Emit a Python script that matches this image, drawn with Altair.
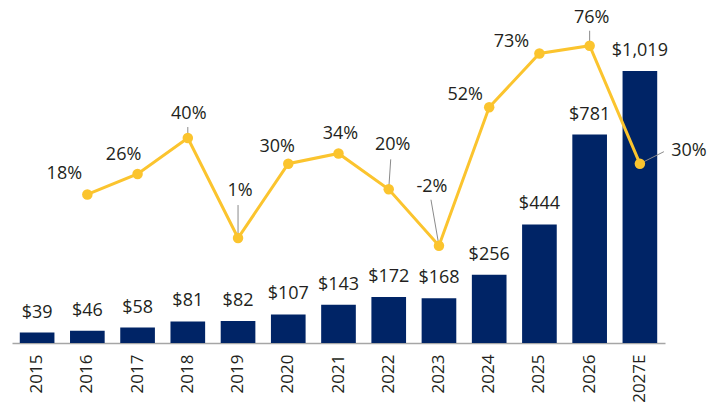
import altair as alt
import pandas as pd

years = ["2015", "2016", "2017", "2018", "2019", "2020", "2021", "2022", "2023", "2024", "2025", "2026", "2027E"]
revenue = [39, 46, 58, 81, 82, 107, 143, 172, 168, 256, 444, 781, 1019]
growth = [None, 18, 26, 40, 1, 30, 34, 20, -2, 52, 73, 76, 30]

df = pd.DataFrame({"year": years, "revenue": revenue, "growth": growth})

NAVY = "#002466"
GOLD = "#FBC42E"
TXT = "#231f20"
FONT = "Open Sans"
FS = 18

base = alt.Chart(df)

x = alt.X(
    "year:N",
    sort=None,
    title=None,
    scale=alt.Scale(paddingInner=0.31, paddingOuter=0.155),
    axis=alt.Axis(
        domainColor="#a6a6a6",
        domainWidth=1.5,
        ticks=False,
        labelAngle=270,
        labelAlign="right",
        labelBaseline="middle",
        labelPadding=11,
        labelFont=FONT,
        labelFontSize=17,
        labelColor=TXT,
    ),
)

yb = alt.Y("revenue:Q", scale=alt.Scale(domain=[0, 1225], nice=False, zero=True), axis=None)
yl = alt.Y("growth:Q", scale=alt.Scale(domain=[-39.94, 87.6], nice=False, zero=False), axis=None)

bars = base.mark_bar(color=NAVY).encode(x=x, y=yb)
bar_labels = base.mark_text(
    dy=-15, baseline="alphabetic", align="center", font=FONT, fontSize=FS, color=TXT
).encode(x=x, y=yb, text=alt.Text("revenue:Q", format="$,"))

bar_layer = alt.layer(bars, bar_labels)

gbase = base.transform_filter("isValid(datum.growth)")

line = gbase.mark_line(color=GOLD, strokeWidth=3).encode(x=x, y=yl)
pts = gbase.mark_circle(color=GOLD, size=110, opacity=1).encode(x=x, y=yl)

# label offsets (dx, dy) relative to each point
label_offsets = {
    "2016": (-23, -15),
    "2017": (-14, -14),
    "2018": (1, -19),
    "2019": (2, -42),
    "2020": (-11, -12),
    "2021": (2, -14),
    "2022": (4, -39),
    "2023": (-7, -54),
    "2024": (-24, -7),
    "2025": (-28, -6),
    "2026": (2, -23),
    "2027E": (49, -8),
}

leader_offsets = {
    "2018": (0, -11),
    "2019": (0, -33),
    "2022": (2, -30),
    "2023": (-8, -46),
    "2026": (0, -15),
    "2027E": (24, -12),
}

rules = []
for yr, (ddx, ddy) in leader_offsets.items():
    rules.append(
        gbase.transform_filter(alt.datum.year == yr)
        .mark_rule(color="#8a8a8a", strokeWidth=1, x2Offset=ddx, y2Offset=ddy)
        .encode(
            x=alt.X("year:N", sort=None, bandPosition=0.5),
            x2=alt.X2("year", bandPosition=0.5),
            y=yl,
            y2=alt.Y2("growth"),
        )
    )

labels = []
for yr, (ddx, ddy) in label_offsets.items():
    labels.append(
        gbase.transform_filter(alt.datum.year == yr)
        .transform_calculate(lab="toString(datum.growth) + '%'")
        .mark_text(dx=ddx, dy=ddy, baseline="alphabetic", align="center", font=FONT, fontSize=FS, color=TXT)
        .encode(x=x, y=yl, text="lab:N")
    )

line_layer = alt.layer(line, *rules, pts, *labels)

chart = (
    alt.layer(bar_layer, line_layer)
    .resolve_scale(y="independent")
    .properties(
        width=653,
        height=327,
        background="white",
        autosize=alt.AutoSizeParams(type="none"),
        padding={"left": 4, "top": 8, "right": 45, "bottom": 60},
    )
    .configure_view(stroke="transparent", strokeWidth=0)
)

chart.save("out.html", embed_options={"renderer": "svg", "actions": False})
